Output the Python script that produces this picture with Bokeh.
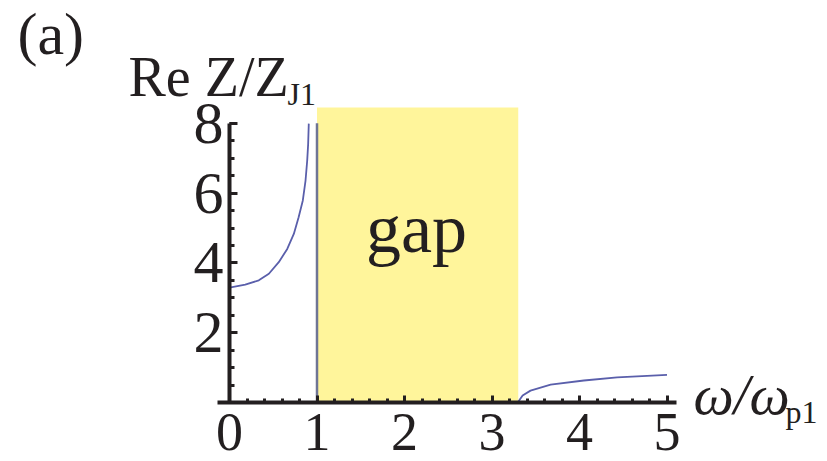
from bokeh.plotting import figure
from bokeh.models import Label, SingleIntervalTicker, Range1d
from bokeh.embed import file_html
from bokeh.resources import INLINE

# --- data ---
below_x = [0.0, 0.18, 0.335, 0.45, 0.563, 0.66, 0.735, 0.79, 0.838, 0.869, 0.888, 0.899, 0.906]
below_y = [3.29, 3.38, 3.50, 3.69, 4.02, 4.40, 4.83, 5.31, 5.79, 6.36, 6.93, 7.41, 7.99]
drop_x = [1.0, 1.0]
drop_y = [0.0, 8.0]
above_x = [3.30, 3.35, 3.44, 3.67, 4.05, 4.43, 5.0]
above_y = [0.02, 0.20, 0.34, 0.51, 0.63, 0.72, 0.79]
gap_left = 1.0
gap_right = 3.30
gap_top = 8.45
x_ticks_labels = ["0", "1", "2", "3", "4", "5"]

SERIF = "Liberation Serif"
INK = "#231f20"
W, H = 827, 461
# layout: data x=0 at px 229, 87.5 px/unit; data y=0 at px 402, 34.9 px/unit
X0, SX = 229.0, 87.5
Y0, SY = 402.0, 34.9

p = figure(width=W, height=H, output_backend="svg", toolbar_location=None,
           x_range=Range1d(-X0 / SX, (W - X0) / SX),
           y_range=Range1d((Y0 - H) / SY, Y0 / SY),
           min_border=0)
p.outline_line_color = None
p.xgrid.visible = False
p.ygrid.visible = False
p.background_fill_color = "white"
p.border_fill_color = "white"

# gap band
p.quad(left=[gap_left], right=[gap_right], bottom=[0], top=[gap_top],
       fill_color="#fff59b", line_color=None)

# curves
p.line(drop_x, drop_y, line_color="#6f7595", line_width=2.5)
p.line(below_x, below_y, line_color="#5a5fab", line_width=1.8)
p.line(above_x, above_y, line_color="#5a5fab", line_width=1.8)

# axes (crossing at the origin)
xa = p.xaxis[0]
xa.ticker = SingleIntervalTicker(interval=1, num_minor_ticks=5)
xa.major_label_overrides = {i: s for i, s in enumerate(x_ticks_labels)}
xa.bounds = (-0.137, 5.109)
xa.fixed_location = 0
ya = p.yaxis[0]
ya.ticker = SingleIntervalTicker(interval=2, num_minor_ticks=4)
ya.major_label_overrides = {0: ""}
ya.bounds = (0, 8)
ya.fixed_location = 0

for ax in (xa, ya):
    ax.axis_line_color = INK
    ax.axis_line_width = 4
    ax.major_tick_line_color = INK
    ax.minor_tick_line_color = INK
    ax.major_tick_line_width = 3
    ax.minor_tick_line_width = 3
    ax.major_tick_out = 0
    ax.minor_tick_out = 0
    ax.major_label_text_font = SERIF
    ax.major_label_text_color = INK
xa.major_label_text_font_size = "54px"
ya.major_label_text_font_size = "60px"
xa.major_tick_in = 7
xa.minor_tick_in = 4
xa.major_label_standoff = 11
ya.major_tick_in = 8
ya.minor_tick_in = 5
ya.major_label_standoff = 6

def lab(px, py, text, size, style="normal", align="left"):
    # px, py: pixel position of the text baseline start; converted to data units
    fs = float(size.replace("px", ""))
    py_adj = py - 0.36 * fs
    p.add_layout(Label(x=(px - X0) / SX, y=(Y0 - py_adj) / SY, text=text,
                       text_font=SERIF, text_font_size=size,
                       text_font_style=style, text_color=INK, text_align=align,
                       text_baseline="alphabetic"))

lab(416, 253, "gap", "70px", align="center")
lab(17, 55, "(a)", "60px")
lab(128, 97, "Re Z/Z", "56px")
lab(287, 105, "J1", "32px")
lab(693, 415, "ω/ω", "57px", style="italic")
lab(785, 423, "p1", "32px")

open("out.html", "w").write(file_html(p, INLINE))
